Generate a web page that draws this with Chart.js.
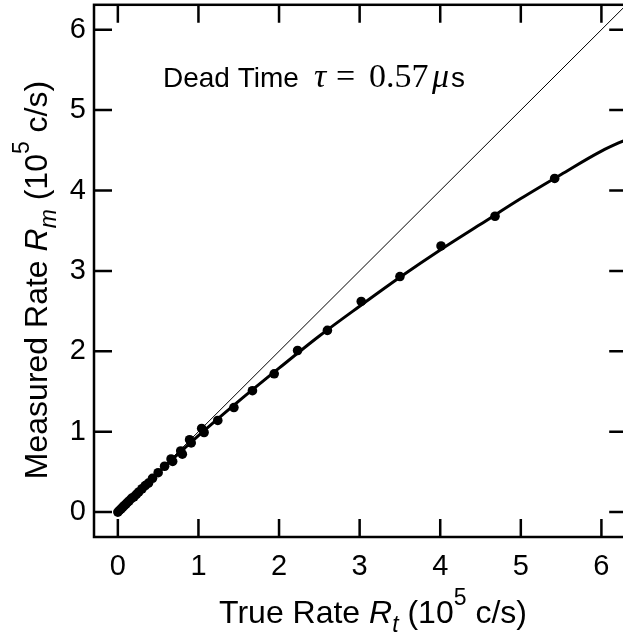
<!DOCTYPE html>
<html>
<head>
<meta charset="utf-8">
<script src="https://cdn.jsdelivr.net/npm/chart.js@4"></script>
<style>
  html, body { margin: 0; padding: 0; background: #fff; overflow: hidden; }
  canvas { display: block; }
</style>
</head>
<body>
<canvas id="dead-time-plot" width="632" height="638"></canvas>
<script>
// measured points (10^5 c/s)
const trueRate = [0.00, 0.02, 0.04, 0.06, 0.08, 0.10, 0.12, 0.14, 0.17, 0.20, 0.23, 0.26, 0.30, 0.34, 0.38,
    0.43, 0.50, 0.58, 0.66, 0.68, 0.78, 0.80, 0.89, 0.91, 1.04, 1.07, 1.24, 1.44, 1.67, 1.94, 2.23, 2.60,
    3.02, 3.50, 4.01, 4.68, 5.42];
const measuredRate = [0.00, 0.02, 0.04, 0.06, 0.08, 0.10, 0.12, 0.14, 0.17, 0.19, 0.22, 0.25, 0.29, 0.33, 0.36,
    0.42, 0.49, 0.57, 0.66, 0.63, 0.76, 0.72, 0.90, 0.86, 1.04, 0.99, 1.14, 1.30, 1.51, 1.72, 2.01, 2.26,
    2.62, 2.93, 3.31, 3.68, 4.15];

// fitted dead-time curve
const fitX = [0, 0.5, 1, 1.5, 2, 2.5, 3, 3.5, 4, 4.5, 5, 5.5, 6, 6.32];
const fitY = [0, 0.49, 0.95, 1.38, 1.79, 2.19, 2.56, 2.92, 3.26, 3.58, 3.90, 4.20, 4.49, 4.64];

// ideal R_m = R_t line
const idealX = [0, 6.32];
const idealY = [0, 6.32];

const tickValues = [0, 1, 2, 3, 4, 5, 6];

const SANS = "'Liberation Sans', Arial, sans-serif";
const SERIF = "'Liberation Serif', 'Times New Roman', serif";

function pts(xs, ys) {
    return xs.map((x, i) => ({ x: x, y: ys[i] }));
}

function drawRich(ctx, parts, cx, y) {
    let w = 0;
    parts.forEach(p => { ctx.font = p.font; w += ctx.measureText(p.t).width; });
    let x = cx - w / 2;
    parts.forEach(p => {
        ctx.font = p.font;
        ctx.fillText(p.t, x, y + (p.dy || 0));
        x += ctx.measureText(p.t).width;
    });
}

const framePlugin = {
    id: "frame",
    afterDraw(chart) {
        const ctx = chart.ctx;
        const a = chart.chartArea;
        const xs = chart.scales.x;
        const ys = chart.scales.y;
        const len = 18;
        ctx.save();
        ctx.strokeStyle = "#000";
        ctx.lineWidth = 2.5;
        ctx.strokeRect(a.left, a.top, a.right - a.left, a.bottom - a.top);
        ctx.beginPath();
        xs.ticks.forEach(t => {
            const px = xs.getPixelForValue(t.value);
            ctx.moveTo(px, a.top); ctx.lineTo(px, a.top + len);
            ctx.moveTo(px, a.bottom); ctx.lineTo(px, a.bottom - len);
        });
        ys.ticks.forEach(t => {
            const py = ys.getPixelForValue(t.value);
            ctx.moveTo(a.left, py); ctx.lineTo(a.left + len, py);
            ctx.moveTo(a.right, py); ctx.lineTo(a.right - len, py);
        });
        ctx.stroke();

        ctx.fillStyle = "#000";
        ctx.textBaseline = "alphabetic";
        ctx.textAlign = "left";
        const big = "32px " + SANS;
        const bigIt = "italic 32px " + SANS;
        const small = "23px " + SANS;
        const smallIt = "italic 23px " + SANS;

        // x title
        drawRich(ctx, [
            { t: "True Rate ", font: big },
            { t: "R", font: bigIt },
            { t: "t", font: smallIt, dy: 9 },
            { t: " (10", font: big },
            { t: "5", font: small, dy: -18 },
            { t: " c/s)", font: big },
        ], 373, 623);

        // y title
        ctx.save();
        ctx.translate(47, 280);
        ctx.rotate(-Math.PI / 2);
        drawRich(ctx, [
            { t: "Measured Rate ", font: big },
            { t: "R", font: bigIt },
            { t: "m", font: smallIt, dy: 9 },
            { t: " (10", font: big },
            { t: "5", font: small, dy: -18 },
            { t: " c/s)", font: big },
        ], 0, 0);
        ctx.restore();

        // annotation
        const base = 87;
        ctx.font = "28px " + SANS;
        ctx.fillText("Dead Time", 163, base);
        ctx.font = "italic 34px " + SERIF;
        ctx.fillText("\u03C4", 314, base);
        ctx.font = "34px " + SERIF;
        ctx.fillText("=", 336, base);
        ctx.fillText("0.57", 369, base);
        ctx.font = "italic 34px " + SERIF;
        ctx.fillText("\u03BC", 432, base);
        ctx.font = "28px " + SANS;
        ctx.fillText("s", 451, base);
        ctx.restore();
    }
};

function keepTicks(scale) {
    scale.ticks = tickValues.map(v => ({ value: v }));
}

function noPad(scale) {
    scale.paddingTop = 0;
    scale.paddingBottom = 0;
    scale.paddingLeft = 0;
    scale.paddingRight = 0;
}

const ctx = document.getElementById("dead-time-plot").getContext("2d");
const deadTimeChart = new Chart(ctx, {
    type: "scatter",
    data: {
        datasets: [{
            label: "data",
            data: pts(trueRate, measuredRate),
            pointRadius: 4.8,
            pointBackgroundColor: "#000",
            pointBorderWidth: 0,
            showLine: false,
        }, {
            label: "fit",
            data: pts(fitX, fitY),
            showLine: true,
            borderColor: "#000",
            borderWidth: 3,
            pointRadius: 0,
            cubicInterpolationMode: "monotone",
        }, {
            label: "ideal",
            data: pts(idealX, idealY),
            showLine: true,
            borderColor: "#000",
            borderWidth: 1,
            pointRadius: 0,
        }]
    },
    options: {
        responsive: false,
        animation: false,
        devicePixelRatio: 1,
        layout: {
            padding: { top: 1, right: 2, left: 0, bottom: 0 }
        },
        scales: {
            x: {
                type: "linear",
                min: -0.296,
                max: 6.32,
                grid: { display: false, drawTicks: false },
                border: { display: false },
                ticks: {
                    padding: 13,
                    color: "#000",
                    font: { family: SANS, size: 29 },
                    maxRotation: 0,
                },
                afterBuildTicks: keepTicks,
                afterFit: (scale) => { scale.height = 101; noPad(scale); },
            },
            y: {
                type: "linear",
                min: -0.31,
                max: 6.31,
                grid: { display: false, drawTicks: false },
                border: { display: false },
                ticks: {
                    padding: 8,
                    color: "#000",
                    font: { family: SANS, size: 29 },
                },
                afterBuildTicks: keepTicks,
                afterFit: (scale) => { scale.width = 94; noPad(scale); },
            }
        },
        plugins: {
            legend: { display: false },
            tooltip: { enabled: false },
        },
    },
    plugins: [framePlugin],
});
</script>
</body>
</html>
